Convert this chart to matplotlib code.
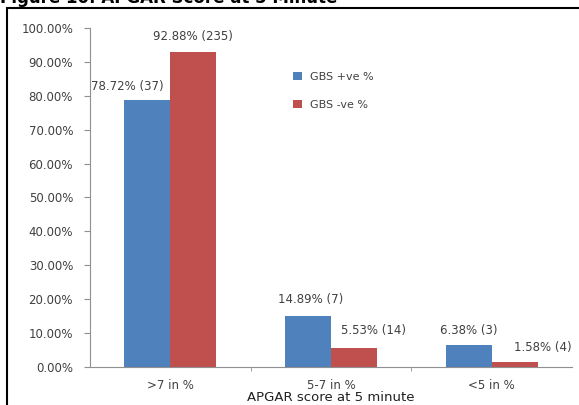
import numpy as np
import matplotlib.pyplot as plt
from matplotlib.patches import Rectangle

categories = ['>7 in %', '5-7 in %', '<5 in %']
gbs_pos = [78.72, 14.89, 6.38]
gbs_neg = [92.88, 5.53, 1.58]
gbs_pos_n = [37, 7, 3]
gbs_neg_n = [235, 14, 4]

fig = plt.figure(figsize=(5.79, 4.05), dpi=100)
ax = fig.add_axes([0.155, 0.094, 0.833, 0.837])

x = np.arange(len(categories))
w = 0.286
b1 = ax.bar(x - w / 2, gbs_pos, w, color='#4F81BD', label='GBS +ve %')
b2 = ax.bar(x + w / 2, gbs_neg, w, color='#C0504D', label='GBS -ve %')

txt = '#404040'
# label nudges (points) so the tags sit clear of neighbouring bars
pos_shift = [(-14, 10), (2, 12), (0, 11)]
neg_shift = [(0, 11), (14, 13), (20, 10)]
for bars, vals, ns, shifts in ((b1, gbs_pos, gbs_pos_n, pos_shift),
                               (b2, gbs_neg, gbs_neg_n, neg_shift)):
    for r, v, n, d in zip(bars, vals, ns, shifts):
        ax.annotate(f'{v:.2f}% ({n})', (r.get_x() + r.get_width() / 2, v),
                    xytext=d, textcoords='offset points',
                    ha='center', va='center', fontsize=8.5, color=txt)

ax.set_xlim(-0.5, 2.5)
ax.set_ylim(0, 100)
ax.set_yticks(np.arange(0, 101, 10))
ax.set_yticklabels([f'{v:.2f}%' for v in range(0, 101, 10)])
ax.set_xticks(x)
ax.set_xticklabels(categories)
ax.set_xticks([0.5, 1.5], minor=True)
ax.tick_params(axis='x', which='major', length=0, pad=9, labelsize=8.5, labelcolor=txt)
ax.tick_params(axis='x', which='minor', length=3, color='#909090')
ax.tick_params(axis='y', length=4, color='#909090', labelsize=8.5, labelcolor=txt, pad=8)
for s in ('top', 'right'):
    ax.spines[s].set_visible(False)
for s in ('left', 'bottom'):
    ax.spines[s].set_color('#909090')
ax.set_xlabel('APGAR score at 5 minute', fontsize=9.5, labelpad=-1, color='#202020')

ax.legend(loc='upper left', bbox_to_anchor=(0.4, 0.9), frameon=False,
          fontsize=8, handlelength=0.8, handleheight=0.8, labelspacing=1.6,
          labelcolor=txt)

# outer frame and caption
fig.patches.append(Rectangle((7 / 579, -0.1), 1.2, 1 - 8 / 405 + 0.1,
                             transform=fig.transFigure, fill=False,
                             edgecolor='black', linewidth=1.5))
fig.text(0.0, 1.005, 'Figure 10: APGAR Score at 5 Minute', fontsize=12,
         fontweight='bold', ha='left', va='center')

fig.savefig('out.png', dpi=100)
